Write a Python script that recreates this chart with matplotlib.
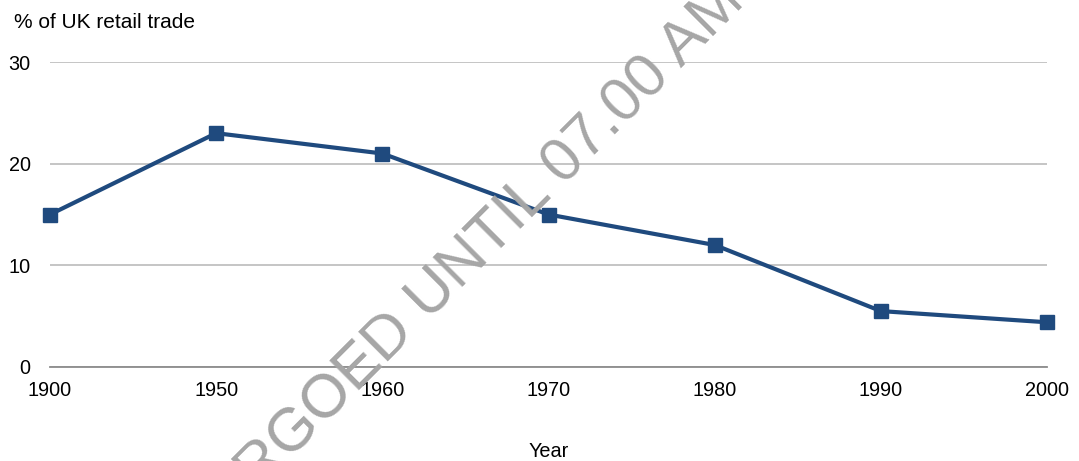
import matplotlib.pyplot as plt

plt.rcParams['font.family'] = ['Liberation Sans', 'DejaVu Sans']

years = ['1900', '1950', '1960', '1970', '1980', '1990', '2000']
share = [15, 23, 21, 15, 12, 5.5, 4.4]
yticks = [0, 10, 20, 30]

W, H = 1079, 461
fig = plt.figure(figsize=(W / 100, H / 100), dpi=100)
ax = fig.add_axes([50 / W, 1 - 367 / H, (1047 - 50) / W, (367 - 62) / H])

x = list(range(len(years)))
ax.plot(x, share, color='#1f4a7e', lw=3, marker='s', ms=9.5, zorder=4, clip_on=False)

ax.set_xlim(0, len(years) - 1)
ax.set_ylim(0, 30)
ax.set_xticks(x)
ax.set_xticklabels(years)
ax.set_yticks(yticks)
ax.tick_params(axis='both', length=0, labelsize=14.3)
ax.tick_params(axis='x', pad=10)
ax.tick_params(axis='y', pad=14)
ax.grid(axis='y', color='#c0c0c0', lw=1.3, zorder=1)
ax.set_axisbelow(True)
for s in ['top', 'right', 'left']:
    ax.spines[s].set_visible(False)
ax.spines['bottom'].set_color('#8c8c8c')
ax.spines['bottom'].set_linewidth(1.3)
ax.spines['bottom'].set_zorder(2)

ax.set_xlabel('Year', fontsize=14.3, labelpad=30)
fig.text(14 / W, 1 - 22 / H, '% of UK retail trade', fontsize=15, va='center', ha='left')

# watermark
fig.text(430 / W, 1 - 298 / H, 'EMBARGOED UNTIL 07.00 AM', fontsize=44, color='#a6a6a6',
         rotation=45, ha='center', va='center', rotation_mode='anchor', zorder=3)

fig.savefig('out.png', dpi=100)
